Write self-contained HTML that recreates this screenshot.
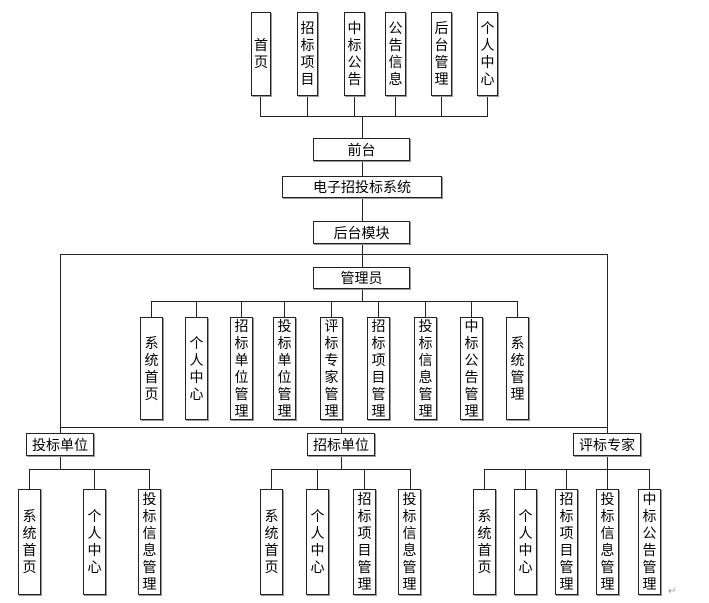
<!DOCTYPE html>
<html><head><meta charset="utf-8"><style>
body{margin:0;background:#fff;}
#c{position:relative;width:709px;height:603px;overflow:hidden;font-family:"Liberation Sans","Noto Sans CJK SC","WenQuanYi Zen Hei",sans-serif;color:#000;}
.b{position:absolute;box-sizing:border-box;border:1px solid #222;box-shadow:1px 1px 0 #999;background:#fff;display:flex;align-items:center;justify-content:center;font-size:14px;}
.v span{display:block;width:14px;word-break:break-all;line-height:17px;text-align:center;}
.l{position:absolute;background:#222;}
</style></head><body><div id="c">
<!-- lines -->
<div class="l" style="left:260px;top:116px;width:228px;height:1px"></div>
<div class="l" style="left:260px;top:96px;width:1px;height:20px"></div>
<div class="l" style="left:307px;top:96px;width:1px;height:20px"></div>
<div class="l" style="left:354px;top:96px;width:1px;height:20px"></div>
<div class="l" style="left:395px;top:96px;width:1px;height:20px"></div>
<div class="l" style="left:441px;top:96px;width:1px;height:20px"></div>
<div class="l" style="left:487px;top:96px;width:1px;height:20px"></div>
<div class="l" style="left:362px;top:116px;width:1px;height:151px"></div>
<div class="l" style="left:60px;top:254px;width:547px;height:1px"></div>
<div class="l" style="left:60px;top:254px;width:1px;height:179px"></div>
<div class="l" style="left:607px;top:254px;width:1px;height:179px"></div>
<div class="l" style="left:60px;top:427px;width:547px;height:1px"></div>
<div class="l" style="left:341px;top:427px;width:1px;height:6px"></div>
<div class="l" style="left:362px;top:289px;width:1px;height:12px"></div>
<div class="l" style="left:151px;top:301px;width:367px;height:1px"></div>
<div class="l" style="left:151px;top:301px;width:1px;height:16px"></div>
<div class="l" style="left:196px;top:301px;width:1px;height:16px"></div>
<div class="l" style="left:241px;top:301px;width:1px;height:16px"></div>
<div class="l" style="left:284px;top:301px;width:1px;height:16px"></div>
<div class="l" style="left:331px;top:301px;width:1px;height:16px"></div>
<div class="l" style="left:378px;top:301px;width:1px;height:16px"></div>
<div class="l" style="left:425px;top:301px;width:1px;height:16px"></div>
<div class="l" style="left:471px;top:301px;width:1px;height:16px"></div>
<div class="l" style="left:517px;top:301px;width:1px;height:16px"></div>
<!-- sub buses -->
<div class="l" style="left:60px;top:456px;width:1px;height:13px"></div>
<div class="l" style="left:29px;top:469px;width:121px;height:1px"></div>
<div class="l" style="left:29px;top:469px;width:1px;height:20px"></div>
<div class="l" style="left:94px;top:469px;width:1px;height:20px"></div>
<div class="l" style="left:149px;top:469px;width:1px;height:20px"></div>
<div class="l" style="left:341px;top:456px;width:1px;height:13px"></div>
<div class="l" style="left:271px;top:469px;width:140px;height:1px"></div>
<div class="l" style="left:271px;top:469px;width:1px;height:20px"></div>
<div class="l" style="left:317px;top:469px;width:1px;height:20px"></div>
<div class="l" style="left:364px;top:469px;width:1px;height:20px"></div>
<div class="l" style="left:410px;top:469px;width:1px;height:20px"></div>
<div class="l" style="left:607px;top:456px;width:1px;height:13px"></div>
<div class="l" style="left:484px;top:469px;width:166px;height:1px"></div>
<div class="l" style="left:484px;top:469px;width:1px;height:20px"></div>
<div class="l" style="left:525px;top:469px;width:1px;height:20px"></div>
<div class="l" style="left:566px;top:469px;width:1px;height:20px"></div>
<div class="l" style="left:607px;top:469px;width:1px;height:20px"></div>
<div class="l" style="left:649px;top:469px;width:1px;height:20px"></div>
<!-- top boxes -->
<div class="b v" style="left:251px;top:12px;width:20px;height:84px"><span>首页</span></div>
<div class="b v" style="left:297px;top:12px;width:21px;height:84px"><span>招标项目</span></div>
<div class="b v" style="left:344px;top:12px;width:21px;height:84px"><span>中标公告</span></div>
<div class="b v" style="left:385px;top:12px;width:21px;height:84px"><span>公告信息</span></div>
<div class="b v" style="left:431px;top:12px;width:21px;height:84px"><span>后台管理</span></div>
<div class="b v" style="left:477px;top:12px;width:21px;height:84px"><span>个人中心</span></div>
<div class="b" style="left:313px;top:138px;width:97px;height:23px">前台</div>
<div class="b" style="left:282px;top:176px;width:160px;height:22px">电子招投标系统</div>
<div class="b" style="left:313px;top:221px;width:97px;height:23px">后台模块</div>
<div class="b" style="left:313px;top:267px;width:97px;height:22px">管理员</div>
<!-- admin children -->
<div class="b v" style="left:140px;top:317px;width:23px;height:103px"><span>系统首页</span></div>
<div class="b v" style="left:185px;top:317px;width:23px;height:103px"><span>个人中心</span></div>
<div class="b v" style="left:230px;top:317px;width:23px;height:103px"><span>招标单位管理</span></div>
<div class="b v" style="left:273px;top:317px;width:23px;height:103px"><span>投标单位管理</span></div>
<div class="b v" style="left:320px;top:317px;width:23px;height:103px"><span>评标专家管理</span></div>
<div class="b v" style="left:367px;top:317px;width:23px;height:103px"><span>招标项目管理</span></div>
<div class="b v" style="left:414px;top:317px;width:23px;height:103px"><span>投标信息管理</span></div>
<div class="b v" style="left:460px;top:317px;width:23px;height:103px"><span>中标公告管理</span></div>
<div class="b v" style="left:506px;top:317px;width:23px;height:103px"><span>系统管理</span></div>
<!-- roles -->
<div class="b" style="left:26px;top:433px;width:68px;height:23px">投标单位</div>
<div class="b" style="left:307px;top:433px;width:68px;height:23px">招标单位</div>
<div class="b" style="left:573px;top:433px;width:68px;height:23px">评标专家</div>
<!-- role children -->
<div class="b v" style="left:18px;top:489px;width:23px;height:106px"><span>系统首页</span></div>
<div class="b v" style="left:83px;top:489px;width:23px;height:106px"><span>个人中心</span></div>
<div class="b v" style="left:138px;top:489px;width:23px;height:106px"><span>投标信息管理</span></div>
<div class="b v" style="left:260px;top:489px;width:23px;height:106px"><span>系统首页</span></div>
<div class="b v" style="left:306px;top:489px;width:23px;height:106px"><span>个人中心</span></div>
<div class="b v" style="left:353px;top:489px;width:23px;height:106px"><span>招标项目管理</span></div>
<div class="b v" style="left:398px;top:489px;width:23px;height:106px"><span>投标信息管理</span></div>
<div class="b v" style="left:473px;top:489px;width:23px;height:106px"><span>系统首页</span></div>
<div class="b v" style="left:514px;top:489px;width:23px;height:106px"><span>个人中心</span></div>
<div class="b v" style="left:555px;top:489px;width:23px;height:106px"><span>招标项目管理</span></div>
<div class="b v" style="left:596px;top:489px;width:23px;height:106px"><span>投标信息管理</span></div>
<div class="b v" style="left:638px;top:489px;width:23px;height:106px"><span>中标公告管理</span></div>
<div style="position:absolute;left:668px;top:586px;font-size:10px;color:#999">↵</div>
</div></body></html>
